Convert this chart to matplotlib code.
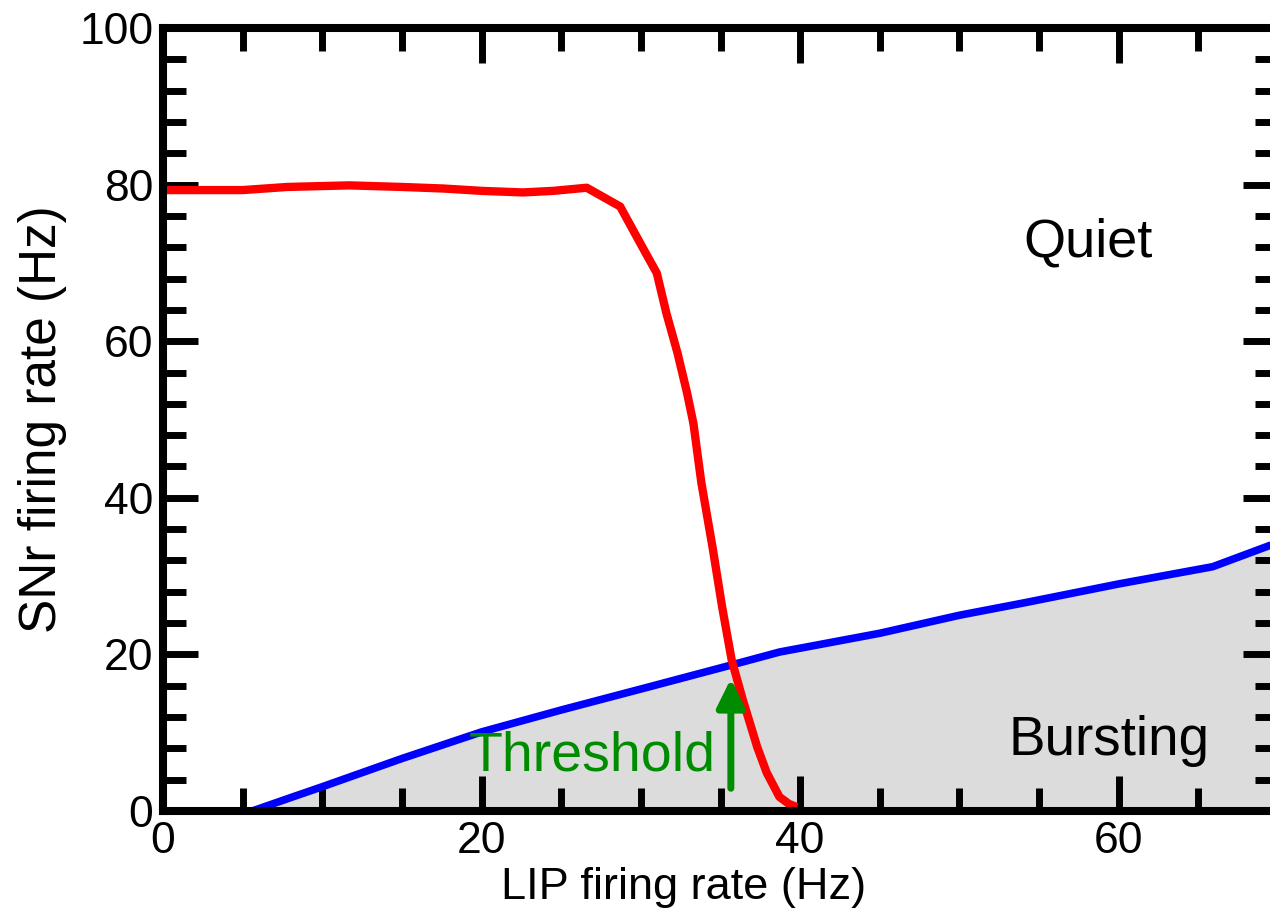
import matplotlib
matplotlib.use("Agg")
import matplotlib.pyplot as plt
from matplotlib.patches import FancyArrowPatch
from matplotlib.ticker import MultipleLocator

plt.rcParams['font.family'] = ['Liberation Sans', 'DejaVu Sans']

# Red curve: SNr rate vs LIP rate
red_x = [0, 5, 7.8, 11.7, 15, 17.6, 20, 22.6, 24.5, 26.6, 28.7, 30.1, 31.0, 31.6,
         32.3, 32.9, 33.3, 33.8, 34.5, 35.1, 35.7, 36.4, 37.3, 37.9, 38.7, 39.3, 39.8]
red_y = [79.3, 79.3, 79.7, 79.9, 79.7, 79.5, 79.2, 79.0, 79.2, 79.6, 77.2, 72.0, 68.7, 63.6,
         58.5, 53.4, 49.5, 41.9, 33.7, 26.1, 19.3, 14.2, 8.2, 4.9, 1.8, 0.9, 0.5]

# Blue curve: bursting boundary
blue_x = [5.6, 8, 10, 15, 20, 25, 30.6, 35.6, 38.7, 45, 50, 54.1, 60, 65.9, 69.6]
blue_y = [0, 1.7, 3.1, 6.7, 10.1, 12.9, 15.9, 18.6, 20.3, 22.7, 25.0, 26.6, 29.0, 31.2, 34.0]

x_ticks = [0, 20, 40, 60]
y_ticks = [0, 20, 40, 60, 80, 100]

arrow_x = 35.65
arrow_y0, arrow_y1 = 2.9, 16.9

fig = plt.figure(figsize=(12.7, 9.18), dpi=100)
ax = fig.add_axes([163/1270, (918-811)/918, (1278-163)/1270, (811-28)/918])

ax.fill_between(blue_x, blue_y, 0, color='#dcdcdc', lw=0, zorder=1)
ax.plot(blue_x, blue_y, color='#0000ff', lw=5.5, zorder=3, solid_capstyle='butt')
ax.plot(red_x, red_y, color='#ff0000', lw=6, zorder=4, solid_capstyle='butt')

arr = FancyArrowPatch((arrow_x, arrow_y0), (arrow_x, arrow_y1),
                      arrowstyle='-|>,head_length=0.85,head_width=0.42',
                      mutation_scale=20, lw=5, color='#008c00',
                      shrinkA=0, shrinkB=0, zorder=5)
ax.add_patch(arr)

ax.text(34.7, 5.2, 'Threshold', color='#008c00', fontsize=40, ha='right', va='baseline', zorder=5)
ax.text(58.1, 70.8, 'Quiet', color='black', fontsize=39, ha='center', va='baseline')
ax.text(59.4, 7.2, 'Bursting', color='black', fontsize=39.5, ha='center', va='baseline')

ax.set_xlim(0, 70)
ax.set_ylim(0, 100)
ax.set_xticks(x_ticks)
ax.set_yticks(y_ticks)
ax.xaxis.set_minor_locator(MultipleLocator(5))
ax.yaxis.set_minor_locator(MultipleLocator(4))

ax.tick_params(which='both', direction='in', top=True, right=True, width=5, colors='black')
ax.tick_params(which='major', length=25, labelsize=32, pad=7)
ax.tick_params(which='minor', length=16.5)
for s in ax.spines.values():
    s.set_linewidth(5.8)
    s.set_zorder(6)

ax.set_xlabel('LIP firing rate (Hz)', fontsize=32.5, va='top')
ax.xaxis.set_label_coords(0.467, -0.071)
ax.set_ylabel('SNr firing rate (Hz)', fontsize=37, va='bottom')
ax.yaxis.set_label_coords(-0.086, 0.5)

fig.savefig('out.png', dpi=100)
